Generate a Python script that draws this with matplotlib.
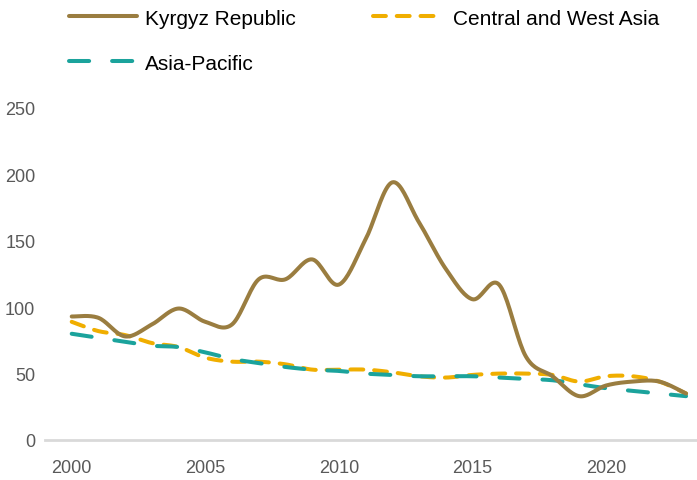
import numpy as np
import matplotlib
matplotlib.use("Agg")
import matplotlib.pyplot as plt
from matplotlib.lines import Line2D

years = list(range(2000, 2024))

kyrgyz = [93, 92, 78, 87, 99, 89, 87, 121, 121, 136, 117, 151,
          194, 164, 129, 106, 117, 63, 48, 33, 41, 44, 44, 35]
central_west = [89, 82, 79, 73, 70, 62, 59, 59, 57, 53, 53, 53,
                51, 48, 47, 49, 50, 50, 49, 44, 48, 48, 44, 35]
asia_pacific = [80, 77, 74, 71, 70, 66, 61, 58, 55, 53, 52, 50,
                49, 48, 48, 48, 47, 46, 45, 42, 39, 37, 35, 33]

yticks = [0, 50, 100, 150, 200, 250]
xticks = [2000, 2005, 2010, 2015, 2020]

BROWN = '#9A7D40'
GOLD = '#F0AE00'
TEAL = '#1BA39C'
W, H = 697, 481


def smooth(x, y, n=20):
    # Excel-style smoothed line: cubic bezier through points (Catmull-Rom tangents)
    x = np.asarray(x, float)
    y = np.asarray(y, float)
    px = np.concatenate([[x[0]], x, [x[-1]]])
    py = np.concatenate([[y[0]], y, [y[-1]]])
    t = np.linspace(0, 1, n, endpoint=False)
    xs, ys = [], []
    for i in range(1, len(px) - 2):
        p0 = np.array([px[i], py[i]])
        p3 = np.array([px[i + 1], py[i + 1]])
        c1 = p0 + (np.array([px[i + 1], py[i + 1]]) - np.array([px[i - 1], py[i - 1]])) / 6
        c2 = p3 - (np.array([px[i + 2], py[i + 2]]) - np.array([px[i], py[i]])) / 6
        b = ((1 - t) ** 3)[:, None] * p0 + (3 * (1 - t) ** 2 * t)[:, None] * c1 \
            + (3 * (1 - t) * t ** 2)[:, None] * c2 + (t ** 3)[:, None] * p3
        xs.append(b[:, 0])
        ys.append(b[:, 1])
    xs.append([x[-1]])
    ys.append([y[-1]])
    return np.concatenate(xs), np.concatenate(ys)


fig = plt.figure(figsize=(W / 100, H / 100), dpi=100)
ax = fig.add_axes([45 / W, 1 - 441 / H, 652 / W, 332 / H])

lw = 2.9
dash_cw = (3.2, 2.7)
dash_ap = (5.0, 5.7)
sx, sy = smooth(years, kyrgyz)
ax.plot(sx, sy, color=BROWN, lw=lw, solid_capstyle='round', zorder=3)
sx, sy = smooth(years, central_west)
ax.plot(sx, sy, color=GOLD, lw=lw, dashes=dash_cw, dash_capstyle='round', zorder=2)
sx, sy = smooth(years, asia_pacific)
ax.plot(sx, sy, color=TEAL, lw=lw, dashes=dash_ap, dash_capstyle='round', zorder=2)

ax.set_xlim(1999, 2023.41)
ax.set_ylim(0, 250)
ax.set_yticks(yticks)
ax.set_xticks(xticks)
for s in ['top', 'right', 'left']:
    ax.spines[s].set_visible(False)
ax.spines['bottom'].set_color('#D9D9D9')
ax.spines['bottom'].set_linewidth(2)
ax.tick_params(length=0, colors='#595959', labelsize=13)
ax.tick_params(axis='y', pad=7)
ax.tick_params(axis='x', pad=14)
for lab in ax.get_xticklabels() + ax.get_yticklabels():
    lab.set_family('Liberation Sans')

# legend, drawn by hand in pixel positions
def legend_item(x0, x1, y, label, **kw):
    fig.add_artist(Line2D([x0 / W, x1 / W], [1 - y / H, 1 - y / H],
                          transform=fig.transFigure, lw=lw, **kw))
    fig.text(145 / W if x0 < 200 else 453 / W, 1 - (y + 8) / H, label,
             fontsize=15, family='Liberation Sans', color='black', va='baseline')


legend_item(69, 137, 17, 'Kyrgyz Republic', color=BROWN, solid_capstyle='round')
legend_item(373, 436, 17, 'Central and West Asia', color=GOLD, dashes=dash_cw,
            dash_capstyle='round')
legend_item(69, 133, 62, 'Asia-Pacific', color=TEAL, dashes=dash_ap,
            dash_capstyle='round')

fig.savefig('out.png', dpi=100)
